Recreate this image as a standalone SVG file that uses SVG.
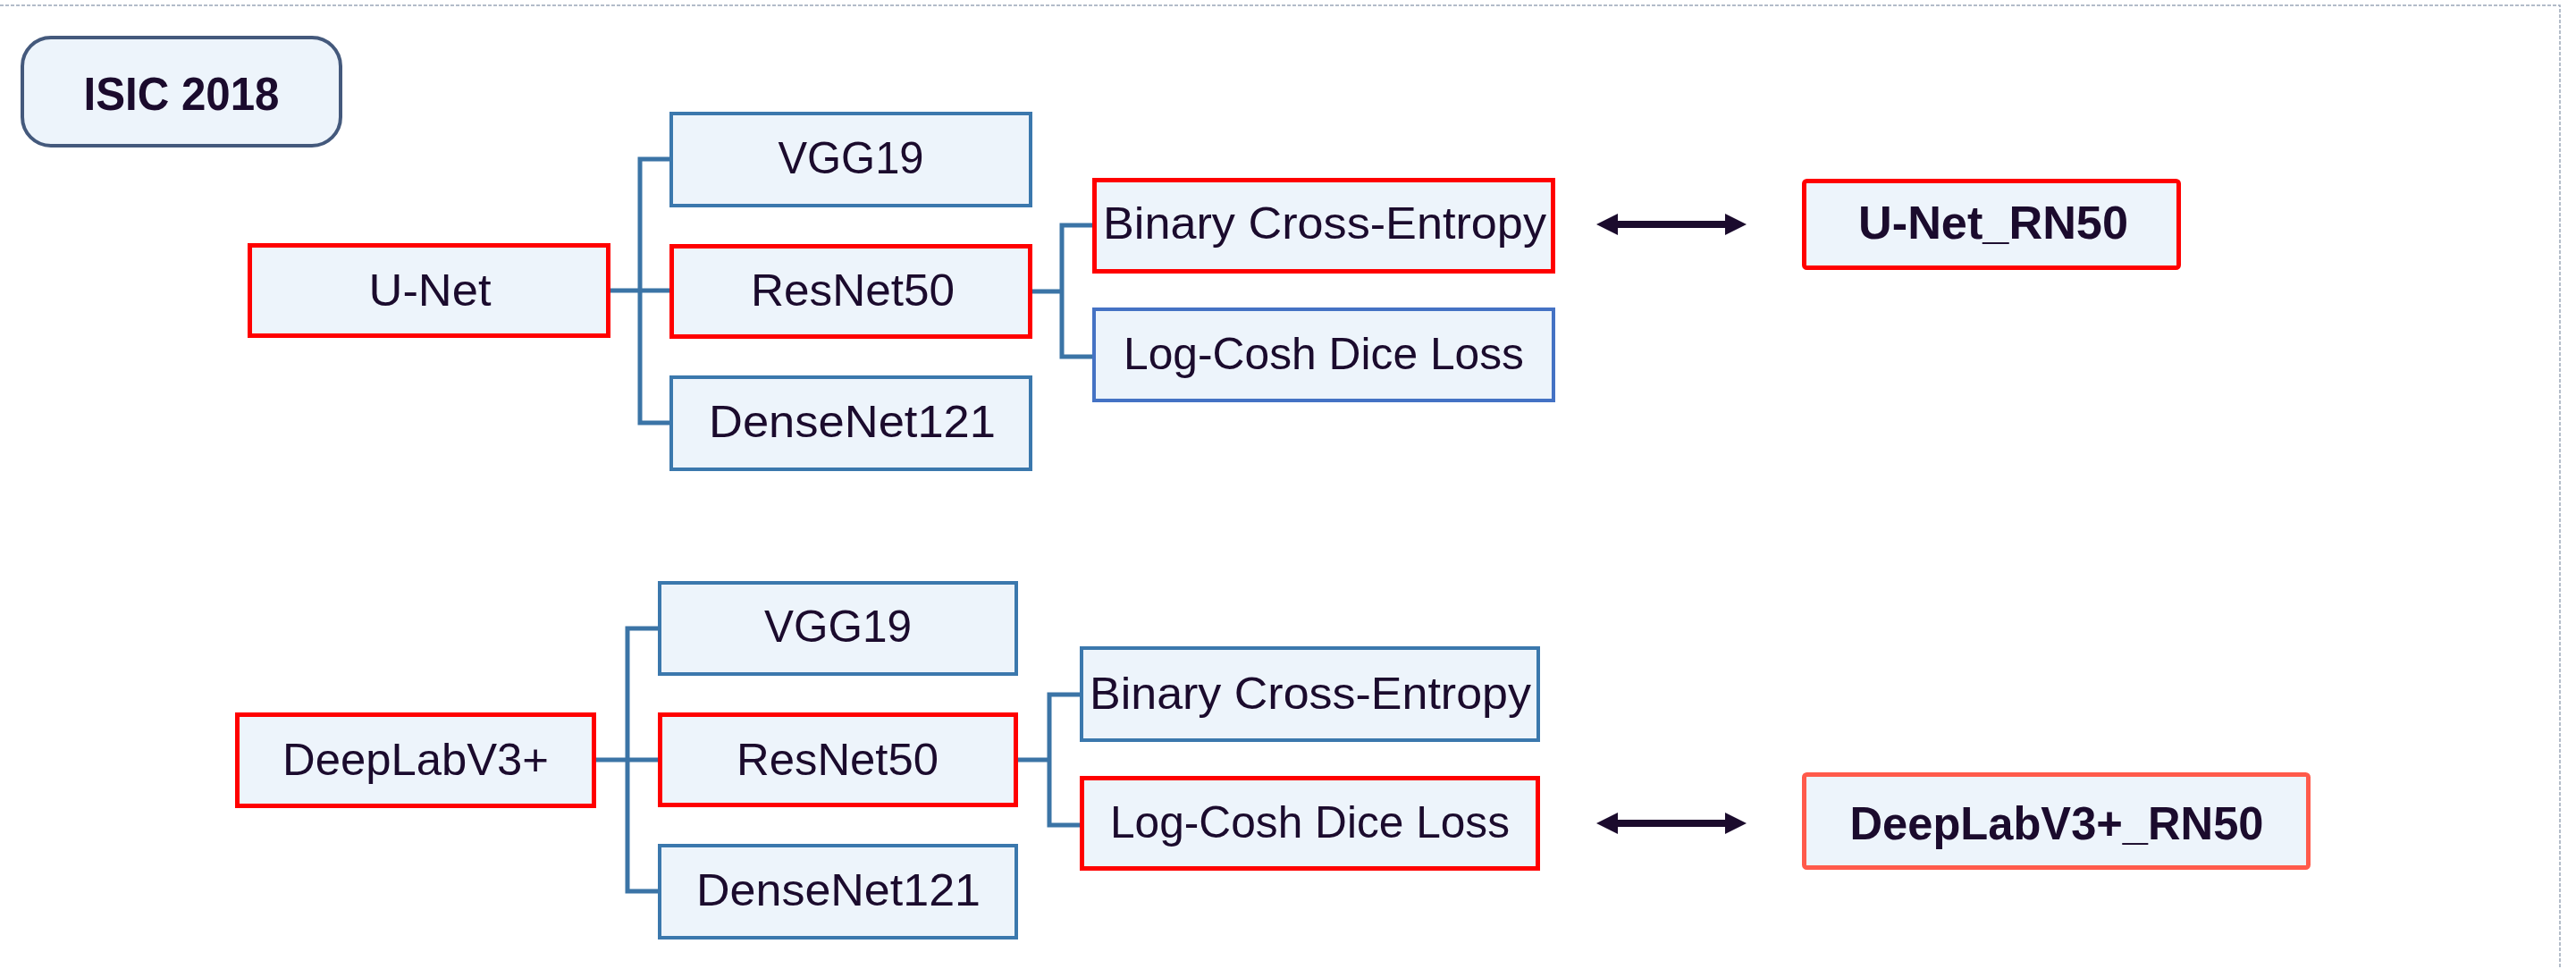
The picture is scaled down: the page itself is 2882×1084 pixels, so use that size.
<svg xmlns="http://www.w3.org/2000/svg" width="2882" height="1084" viewBox="0 0 2882 1084">
<style>
.bg{fill:#ffffff}
.box{fill:#edf4fb;stroke-width:5}
.red{stroke:#ff0000}
.blue{stroke:#3b78ad;stroke-width:4}
.blue2{stroke:#4472c4;stroke-width:4}
.salmon{stroke:#ff5a4b}
.lbl{font-family:"Liberation Sans",Arial,sans-serif;font-size:50px;fill:#1b0b2d;text-anchor:middle}
.bold{font-weight:bold;font-size:52px}
.conn{fill:none;stroke:#3b74a6;stroke-width:5}
.arr{stroke:#1b0b2d;stroke-width:8;fill:none}
.frame{stroke:#9aa6b8;stroke-width:1.5;stroke-dasharray:4 2;fill:none}
</style>
<defs>
<marker id="ah" markerUnits="userSpaceOnUse" markerWidth="24" markerHeight="24" viewBox="0 0 24 24" refX="1" refY="12" orient="auto-start-reverse">
<path d="M0,0 L24,12 L0,24 Z" fill="#1b0b2d"/>
</marker>
</defs>
<rect class="bg" x="0" y="0" width="2882" height="1084"/>
<path class="frame" d="M0,6 H2864 V1084"/>

<g id="isic2018">
<rect x="25" y="42" width="356" height="121" rx="32" fill="#edf4fb" stroke="#44597c" stroke-width="4"/>
<text class="lbl bold" x="203" y="123" font-size="53" textLength="219" lengthAdjust="spacingAndGlyphs">ISIC 2018</text>
</g>

<g id="connectors">
<path class="conn" d="M683,325 H749 M749,178 H716 V473 H749"/>
<path class="conn" d="M1155,326 H1188 M1222,252 H1188 V399 H1222"/>
<path class="conn" d="M667,850 H736 M736,703 H702 V997 H736"/>
<path class="conn" d="M1139,850 H1174 M1208,777 H1174 V923 H1208"/>
<line class="arr" x1="1809" y1="251" x2="1931" y2="251" marker-start="url(#ah)" marker-end="url(#ah)"/>
<line class="arr" x1="1809" y1="921" x2="1931" y2="921" marker-start="url(#ah)" marker-end="url(#ah)"/>
</g>

<g id="unet">
<rect class="box red" x="279.5" y="274.5" width="401" height="101"/>
<text class="lbl" x="481" y="342" textLength="137" lengthAdjust="spacingAndGlyphs">U-Net</text>
</g>
<g id="unet_vgg19">
<rect class="box blue" x="751" y="127" width="402" height="103"/>
<text class="lbl" x="952" y="194" textLength="163" lengthAdjust="spacingAndGlyphs">VGG19</text>
</g>
<g id="unet_resnet50">
<rect class="box red" x="751.5" y="275.5" width="401" height="101"/>
<text class="lbl" x="954" y="342" textLength="228" lengthAdjust="spacingAndGlyphs">ResNet50</text>
</g>
<g id="unet_densenet121">
<rect class="box blue" x="751" y="422" width="402" height="103"/>
<text class="lbl" x="953.5" y="489" textLength="321" lengthAdjust="spacingAndGlyphs">DenseNet121</text>
</g>
<g id="unet_bce">
<rect class="box red" x="1224.5" y="201.5" width="513" height="102"/>
<text class="lbl" x="1482" y="267" textLength="496" lengthAdjust="spacingAndGlyphs">Binary Cross-Entropy</text>
</g>
<g id="unet_lcd">
<rect class="box blue2" x="1224" y="346" width="514" height="102"/>
<text class="lbl" x="1481" y="413" textLength="448" lengthAdjust="spacingAndGlyphs">Log-Cosh Dice Loss</text>
</g>
<g id="unet_rn50">
<rect class="box red" x="2018.5" y="202.5" width="419" height="97" rx="3"/>
<text class="lbl bold" x="2230" y="267" textLength="302" lengthAdjust="spacingAndGlyphs">U-Net_RN50</text>
</g>

<g id="deeplab">
<rect class="box red" x="265.5" y="799.5" width="399" height="102"/>
<text class="lbl" x="465" y="867" textLength="298" lengthAdjust="spacingAndGlyphs">DeepLabV3+</text>
</g>
<g id="deeplab_vgg19">
<rect class="box blue" x="738" y="652" width="399" height="102"/>
<text class="lbl" x="937.5" y="718" textLength="165" lengthAdjust="spacingAndGlyphs">VGG19</text>
</g>
<g id="deeplab_resnet50">
<rect class="box red" x="738.5" y="799.5" width="398" height="101"/>
<text class="lbl" x="937" y="867" textLength="226" lengthAdjust="spacingAndGlyphs">ResNet50</text>
</g>
<g id="deeplab_densenet121">
<rect class="box blue" x="738" y="946" width="399" height="103"/>
<text class="lbl" x="938" y="1013" textLength="318" lengthAdjust="spacingAndGlyphs">DenseNet121</text>
</g>
<g id="deeplab_bce">
<rect class="box blue" x="1210" y="725" width="511" height="103"/>
<text class="lbl" x="1466" y="793" textLength="494" lengthAdjust="spacingAndGlyphs">Binary Cross-Entropy</text>
</g>
<g id="deeplab_lcd">
<rect class="box red" x="1210.5" y="870.5" width="510" height="101"/>
<text class="lbl" x="1465.5" y="937" textLength="447" lengthAdjust="spacingAndGlyphs">Log-Cosh Dice Loss</text>
</g>
<g id="deeplab_rn50">
<rect class="box salmon" x="2018.5" y="866.5" width="564" height="104" rx="3"/>
<text class="lbl bold" x="2301" y="939" textLength="463" lengthAdjust="spacingAndGlyphs">DeepLabV3+_RN50</text>
</g>
</svg>
